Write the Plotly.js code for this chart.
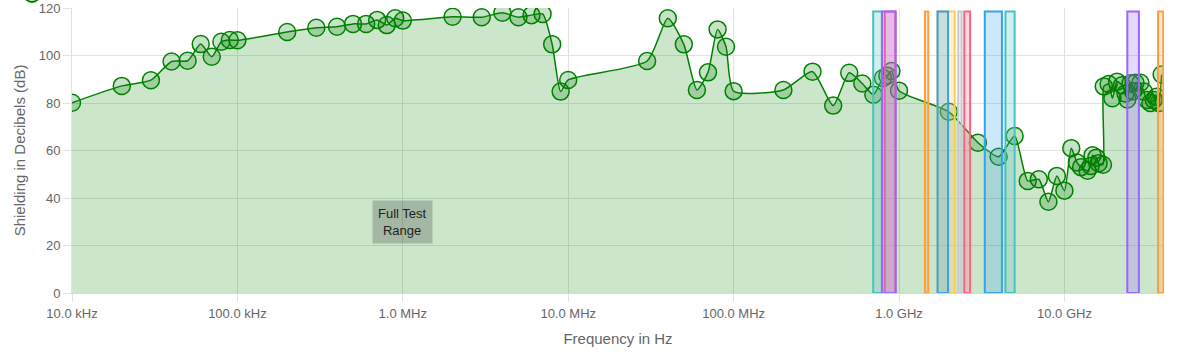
<!DOCTYPE html>
<html>
<head>
<meta charset="utf-8">
<script src="https://cdn.plot.ly/plotly-3.0.1.min.js"></script>
<style>
html,body{margin:0;padding:0;background:#fff;}
#chart{width:1180px;height:352px;}
</style>
</head>
<body>
<div id="chart"></div>
<script>
// Measured shielding (frequency in Hz, shielding in dB)
var freqHz = [
  1e4, 2e4, 3e4, 4e4, 5e4, 6e4, 7e4, 8e4, 9e4, 1e5,
  2e5, 3e5, 4e5, 5e5, 6e5, 7e5, 8e5, 9e5, 1e6,
  2e6, 3e6, 4e6, 5e6, 6e6, 7e6, 8e6, 9e6, 1e7,
  3e7, 4e7, 5e7, 6e7, 7e7, 8e7, 9e7, 1e8,
  2e8, 3e8, 4e8, 5e8, 6e8, 7e8, 8e8, 8.5e8, 9e8, 1e9,
  2e9, 3e9, 4e9, 5e9, 6e9, 7e9, 8e9, 9e9, 1e10,
  1.1e10, 1.19e10, 1.26e10, 1.38e10, 1.44e10, 1.48e10, 1.56e10, 1.61e10, 1.71e10,
  1.73e10, 1.85e10, 1.95e10, 2.08e10, 2.23e10, 2.34e10, 2.4e10, 2.51e10, 2.6e10,
  2.69e10, 2.88e10, 3.02e10, 3.16e10, 3.31e10, 3.47e10, 3.6e10, 3.72e10, 3.87e10
];
var shieldingDb = [
  80.1, 87.2, 89.6, 97.5, 97.8, 104.8, 99.5, 105.8, 106.5, 106.4,
  109.9, 111.7, 112.1, 113.3, 113.3, 115.0, 112.8, 115.7, 114.7,
  116.3, 116.1, 118.0, 116.1, 117.0, 117.5, 104.7, 84.8, 89.7,
  97.7, 115.7, 104.7, 85.5, 92.9, 111.0, 103.7, 85.0,
  85.5, 93.2, 78.9, 92.7, 88.2, 83.5, 90.5, 91.5, 93.5, 85.2,
  76.3, 63.3, 57.4, 66.1, 47.2, 47.9, 38.4, 49.3, 43.1,
  61.0, 55.0, 53.0, 51.5, 53.5, 58.0, 57.0, 54.6, 54.0,
  87.0, 88.0, 82.0, 89.0, 87.5, 84.0, 81.5, 88.3, 85.0,
  88.5, 88.5, 84.8, 81.3, 80.0, 81.3, 82.6, 80.0, 92.0
];

// Frequency bands (start Hz, end Hz, colour)
var bandStart = [6.98e8, 8.2e8, 7.9e8, 1.435e9, 1.71e9, 1.71e9, 2.28e9, 2.48e9, 3.3e9, 4.4e9, 2.4e10, 3.68e10];
var bandEnd   = [7.87e8, 9.5e8, 9.55e8, 1.503e9, 2.17e9, 1.98e9, 2.39e9, 2.69e9, 4.19e9, 5.0e9, 2.82e10, 3.96e10];
var bandColor = ['75,192,192', '255,99,132', '153,102,255', '255,159,64', '255,205,86', '54,162,235',
                 '201,203,207', '255,99,132', '54,162,235', '75,192,192', '153,102,255', '255,159,64'];
var bandTop = 118.5;

var tickVals = [1e4, 1e5, 1e6, 1e7, 1e8, 1e9, 1e10];
var tickText = ['10.0 kHz', '100.0 kHz', '1.0 MHz', '10.0 MHz', '100.0 MHz', '1.0 GHz', '10.0 GHz'];

var traces = [];
traces.push({
  type: 'scatter', mode: 'lines+markers',
  x: freqHz, y: shieldingDb,
  fill: 'tozeroy', fillcolor: 'rgba(0,128,0,0.2)',
  line: {color: 'rgb(0,128,0)', width: 1.5, shape: 'spline', smoothing: 0.6},
  marker: {size: 17, color: 'rgba(0,128,0,0.22)', line: {color: 'rgb(0,128,0)', width: 1.5}},
  showlegend: false
});
for (var i = 0; i < bandStart.length; i++) {
  traces.push({
    type: 'scatter', mode: 'lines',
    x: [bandStart[i], bandStart[i], bandEnd[i], bandEnd[i], bandStart[i]],
    y: [0, bandTop, bandTop, 0, 0],
    fill: 'toself',
    fillcolor: 'rgba(' + bandColor[i] + ',0.25)',
    line: {color: 'rgb(' + bandColor[i] + ')', width: 2},
    hoverinfo: 'skip', showlegend: false
  });
}

var font = 'Arial, "Liberation Sans", Helvetica, sans-serif';
var layout = {
  width: 1180, height: 352,
  margin: {l: 72, r: 16, t: 8, b: 59},
  paper_bgcolor: '#fff', plot_bgcolor: '#fff',
  font: {family: font, color: '#666', size: 13},
  showlegend: false,
  xaxis: {
    type: 'log', range: [4, Math.log10(4e10)],
    tickvals: tickVals, ticktext: tickText,
    ticks: 'outside', ticklen: 8, tickcolor: '#e2e2e2',
    gridcolor: '#e2e2e2', showline: true, linecolor: '#d6d6d6',
    zeroline: false, tickfont: {size: 13, color: '#666'},
    title: {text: 'Frequency in Hz', font: {size: 15, color: '#666'}, standoff: 13},
    automargin: false
  },
  yaxis: {
    range: [0, 120], dtick: 20,
    ticks: 'outside', ticklen: 8, tickcolor: '#e2e2e2',
    gridcolor: '#e2e2e2', showline: true, linecolor: '#e2e2e2',
    zeroline: false, tickfont: {size: 13, color: '#666'},
    title: {text: 'Shielding in Decibels (dB)', font: {size: 15, color: '#666'}, standoff: 9},
    automargin: false
  },
  annotations: [{
    x: 6, y: 30, xref: 'x', yref: 'y',
    text: 'Full Test<br>Range', showarrow: false,
    bgcolor: 'rgba(0,0,0,0.2)', borderpad: 5,
    font: {family: font, size: 13, color: '#222'}
  }],
  shapes: [{
    type: 'circle', xref: 'paper', yref: 'paper',
    x0: (24 - 72) / 1092, x1: (40 - 72) / 1092,
    y0: (293 - 2) / 285, y1: (293 + 14) / 285,
    fillcolor: 'rgba(0,128,0,0.2)', line: {color: 'rgb(0,128,0)', width: 2}
  }]
};

Plotly.newPlot('chart', traces, layout, {displayModeBar: false, staticPlot: true});
</script>
</body>
</html>
